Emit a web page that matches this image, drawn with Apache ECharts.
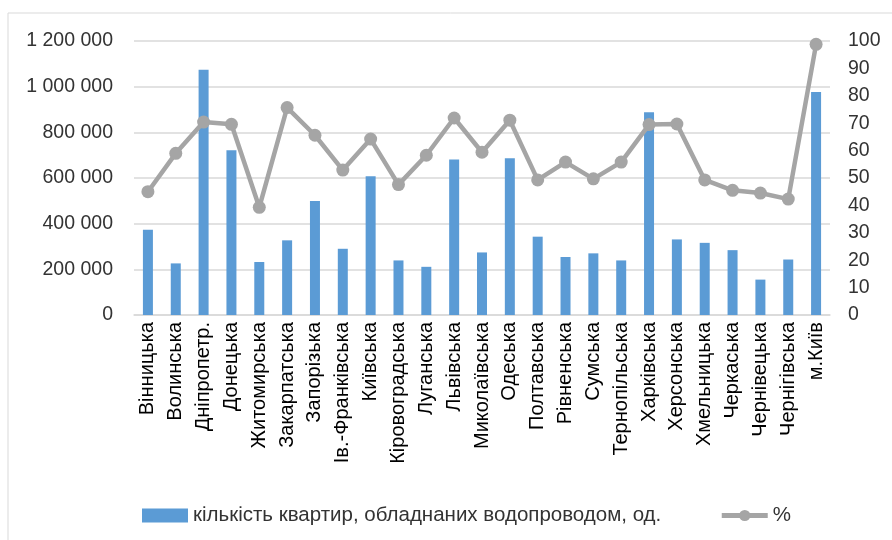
<!DOCTYPE html>
<html>
<head>
<meta charset="utf-8">
<script src="https://cdn.jsdelivr.net/npm/echarts@6/dist/echarts.min.js"></script>
<style>
  html, body { margin: 0; padding: 0; background: #fff; }
  #chart { width: 892px; height: 540px; }
</style>
</head>
<body>
<div id="chart"></div>
<script>
var regions = [
  'Вінницька', 'Волинська', 'Дніпропетр.', 'Донецька', 'Житомирська',
  'Закарпатська', 'Запорізька', 'Ів.-Франківська', 'Київська', 'Кіровоградська',
  'Луганська', 'Львівська', 'Миколаївська', 'Одеська', 'Полтавська',
  'Рівненська', 'Сумська', 'Тернопільська', 'Харківська', 'Херсонська',
  'Хмельницька', 'Черкаська', 'Чернівецька', 'Чернігівська', 'м.Київ'
];

// кількість квартир, обладнаних водопроводом, од.
var flats = [
  373000, 226000, 1074000, 722000, 232000,
  327000, 499000, 290000, 608000, 239000,
  211000, 681000, 274000, 687000, 343000,
  254000, 270000, 239000, 888000, 331000,
  316000, 284000, 155000, 243000, 977000
];

// %
var percent = [
  45, 59, 70.4, 69.6, 39.3,
  75.7, 65.6, 52.9, 64.2, 47.6,
  58.3, 71.9, 59.4, 71.1, 49.3,
  55.8, 49.7, 55.8, 69.5, 69.7,
  49.3, 45.5, 44.5, 42.3, 98.8
];

var leftTicks = { min: 0, max: 1200000, step: 200000 };
var rightTicks = { min: 0, max: 100, step: 10 };

var labelFont = 'Liberation Sans';
var textColor = '#333';

function spaced(v) {
  return String(v).replace(/\B(?=(\d{3})+(?!\d))/g, ' ');
}

var chart = echarts.init(document.getElementById('chart'), null, { renderer: 'canvas' });

chart.setOption({
  animation: false,
  backgroundColor: '#fff',
  graphic: [{
    type: 'rect',
    shape: { x: 8, y: 13, width: 900, height: 540 },
    style: { fill: 'none', stroke: '#d9d9d9', lineWidth: 1 },
    silent: true
  }],
  grid: { left: 134, right: 62, top: 41, bottom: 225 },
  legend: {
    bottom: 9,
    left: 137,
    itemWidth: 46,
    itemHeight: 14,
    itemGap: 58,
    textStyle: { fontFamily: labelFont, fontSize: 20.5, color: textColor },
    data: [
      { name: 'кількість квартир, обладнаних водопроводом, од.', icon: 'rect' },
      { name: '%', lineStyle: { width: 5 } }
    ]
  },
  xAxis: {
    type: 'category',
    data: regions,
    axisLine: { lineStyle: { color: '#d9d9d9', width: 1.5 } },
    axisTick: { show: false },
    axisLabel: {
      rotate: 90,
      interval: 0,
      margin: 7,
      fontFamily: labelFont,
      fontSize: 20,
      color: '#000'
    }
  },
  yAxis: [{
    type: 'value',
    min: leftTicks.min,
    max: leftTicks.max,
    interval: leftTicks.step,
    axisLine: { show: false },
    axisTick: { show: false },
    splitLine: { lineStyle: { color: '#d9d9d9', width: 1.5 } },
    axisLabel: {
      margin: 21,
      fontFamily: labelFont,
      fontSize: 19.5,
      color: textColor,
      formatter: spaced
    }
  }, {
    type: 'value',
    min: rightTicks.min,
    max: rightTicks.max,
    interval: rightTicks.step,
    position: 'right',
    axisLine: { show: false },
    axisTick: { show: false },
    splitLine: { show: false },
    axisLabel: {
      margin: 18,
      fontFamily: labelFont,
      fontSize: 19.5,
      color: textColor
    }
  }],
  series: [{
    name: 'кількість квартир, обладнаних водопроводом, од.',
    type: 'bar',
    yAxisIndex: 0,
    data: flats,
    barWidth: 10,
    itemStyle: { color: '#5b9bd5' }
  }, {
    name: '%',
    type: 'line',
    yAxisIndex: 1,
    data: percent,
    symbol: 'circle',
    symbolSize: 13,
    lineStyle: { color: '#a5a5a5', width: 4.5 },
    itemStyle: { color: '#a5a5a5' },
    z: 3
  }]
});
</script>
</body>
</html>
